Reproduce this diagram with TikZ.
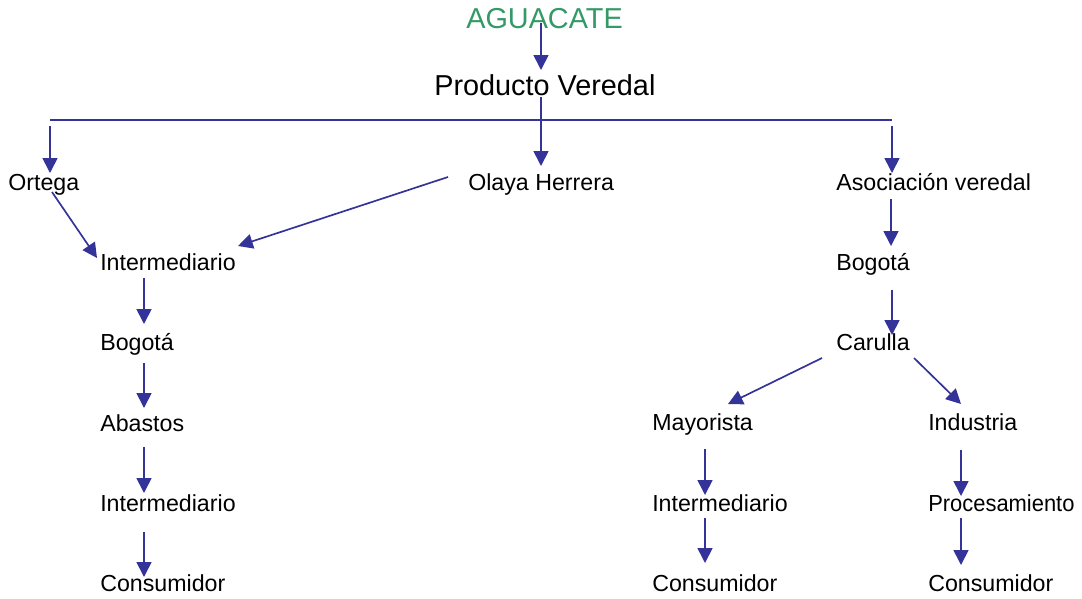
\documentclass[tikz,border=0pt]{standalone}
\usepackage{fontspec}
\setmainfont{Liberation Sans}
\usepackage{tikz}
\usetikzlibrary{positioning,arrows.meta}

\definecolor{flowblue}{RGB}{51,51,153}
\definecolor{titlegreen}{RGB}{51,153,102}

\begin{document}
\begin{tikzpicture}[x=0.025cm,y=-0.025cm,
		every node/.style={anchor=base west,inner sep=0pt,
		font=\fontsize{16.5}{20}\selectfont},
		title/.style={font=\fontsize{20.5}{24}\selectfont},
		flow/.style={draw=flowblue,line width=1.2pt,
		-{Triangle[length=10.5pt,width=10.5pt]}},
		bar/.style={draw=flowblue,line width=1.2pt}
	]
	\useasboundingbox (0,0) rectangle (1082,598);

	% Top
	\node[title,text=titlegreen] (agua) at (466,28) {AGUACATE};
	\node[title] (prod) at (434,95) {Producto Veredal};
	\coordinate (barL) at (50,120);
	\coordinate (barR) at (892,120);

	% First level
	\node (ortega) at (8,190) {Ortega};
	\node (olaya) at (468,190) {Olaya Herrera};
	\node (asoc) at (836,190) {Asociación veredal};

	% Left branch
	\node (int1) at (100,270) {Intermediario};
	\node (bog1) at (100,350) {Bogotá};
	\node (abas) at (100,431) {Abastos};
	\node (int2) at (100,511) {Intermediario};
	\node (cons1) at (100,591) {Consumidor};

	% Right branch
	\node (bog2) at (836,270) {Bogotá};
	\node (carul) at (836,350) {Carulla};
	\node (mayor) at (652,430) {Mayorista};
	\node (indus) at (928,430) {Industria};
	\node (int3) at (652,511) {Intermediario};
	\node (proc) at (928,511) {\scalebox{0.945}[1]{Procesamiento}};
	\node (cons2) at (652,591) {Consumidor};
	\node (cons3) at (928,591) {Consumidor};

	% Connectors
	\draw[flow] ([shift={(75,-5)}]agua.base west) -- ([shift={(107,-25)}]prod.base west);
	\draw[bar] (barL) -- (barR);
	\draw[flow] ([shift={(107,2)}]prod.base west) -- ([shift={(73,-24)}]olaya.base west);
	\draw[flow] ([shift={(0,6)}]barL) -- ([shift={(42,-17)}]ortega.base west);
	\draw[flow] ([shift={(0,6)}]barR) -- ([shift={(56,-17)}]asoc.base west);

	\draw[flow] ([shift={(44,2)}]ortega.base west) -- ([shift={(-3,-12)}]int1.base west);
	\draw[flow] ([shift={(-20,-13)}]olaya.base west) -- ([shift={(138,-24)}]int1.base west);
	\draw[flow] ([shift={(44,8)}]int1.base west) -- ([shift={(44,-26)}]bog1.base west);
	\draw[flow] ([shift={(44,13)}]bog1.base west) -- ([shift={(44,-23)}]abas.base west);
	\draw[flow] ([shift={(44,16)}]abas.base west) -- ([shift={(44,-18)}]int2.base west);
	\draw[flow] ([shift={(44,21)}]int2.base west) -- ([shift={(44,-14)}]cons1.base west);

	\draw[flow] ([shift={(55,9)}]asoc.base west) -- ([shift={(55,-24)}]bog2.base west);
	\draw[flow] ([shift={(56,20)}]bog2.base west) -- ([shift={(56,-15)}]carul.base west);
	\draw[flow] ([shift={(-14,8)}]carul.base west) -- ([shift={(76,-26)}]mayor.base west);
	\draw[flow] ([shift={(78,8)}]carul.base west) -- ([shift={(33,-26)}]indus.base west);
	\draw[flow] ([shift={(53,19)}]mayor.base west) -- ([shift={(53,-16)}]int3.base west);
	\draw[flow] ([shift={(53,7)}]int3.base west) -- ([shift={(53,-28)}]cons2.base west);
	\draw[flow] ([shift={(33,20)}]indus.base west) -- ([shift={(33,-15)}]proc.base west);
	\draw[flow] ([shift={(33,7)}]proc.base west) -- ([shift={(33,-26)}]cons3.base west);

\end{tikzpicture}
\end{document}
